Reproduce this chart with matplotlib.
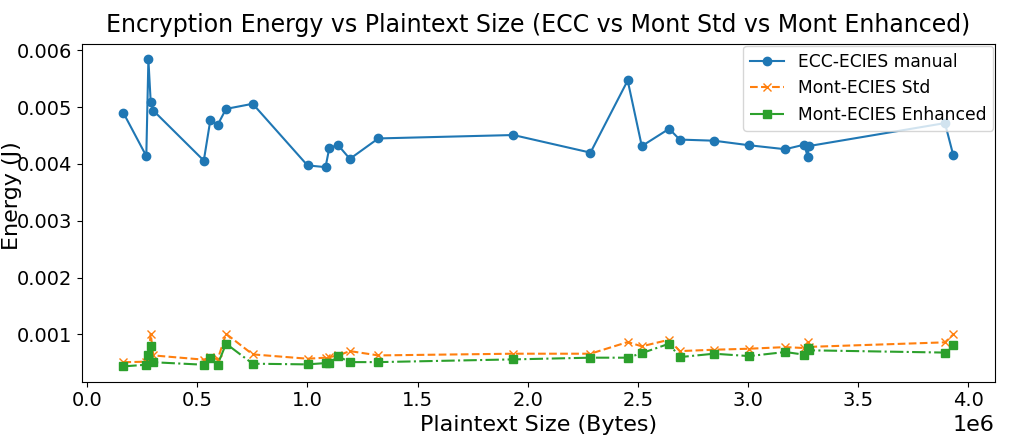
import numpy as np
import matplotlib
matplotlib.use("Agg")
import matplotlib.pyplot as plt

# plaintext sizes (bytes) and measured encryption energy (J)
sizes = np.array([0.165, 0.269, 0.2785, 0.289, 0.301, 0.530, 0.560, 0.593, 0.631, 0.752,
                  1.0007, 1.0825, 1.100, 1.140, 1.193, 1.322, 1.935, 2.285, 2.454, 2.518,
                  2.642, 2.690, 2.846, 3.005, 3.169, 3.255, 3.272, 3.275, 3.894, 3.932]) * 1e6

ecc_energy = np.array([4.90, 4.14, 5.84, 5.09, 4.94, 4.06, 4.78, 4.69, 4.97, 5.06,
                       3.975, 3.945, 4.29, 4.33, 4.09, 4.45, 4.51, 4.20, 5.47, 4.315,
                       4.62, 4.43, 4.41, 4.33, 4.26, 4.34, 4.12, 4.315, 4.72, 4.15]) * 1e-3

mont_std_energy = np.array([0.51, 0.52, 0.60, 1.01, 0.63, 0.555, 0.60, 0.56, 1.01, 0.648,
                            0.572, 0.59, 0.60, 0.63, 0.706, 0.63, 0.66, 0.66, 0.865, 0.79,
                            0.906, 0.706, 0.73, 0.748, 0.776, 0.76, 0.865, 0.78, 0.86, 1.0]) * 1e-3

mont_enh_energy = np.array([0.437, 0.466, 0.63, 0.79, 0.51, 0.466, 0.58, 0.47, 0.836, 0.484,
                            0.472, 0.495, 0.495, 0.613, 0.512, 0.512, 0.56, 0.59, 0.59, 0.67,
                            0.836, 0.60, 0.66, 0.618, 0.69, 0.643, 0.76, 0.72, 0.68, 0.806]) * 1e-3

fig = plt.figure(figsize=(10.11, 4.37), dpi=100)
ax = fig.add_axes([0.081, 0.1265, 0.903, 0.7725])

ax.plot(sizes, ecc_energy, marker='o', linestyle='-', label='ECC-ECIES manual')
ax.plot(sizes, mont_std_energy, marker='x', linestyle='--', label='Mont-ECIES Std')
ax.plot(sizes, mont_enh_energy, marker='s', linestyle='-.', label='Mont-ECIES Enhanced')

ax.set_title('Encryption Energy vs Plaintext Size (ECC vs Mont Std vs Mont Enhanced)',
             fontsize=17, pad=9)
ax.set_xlabel('Plaintext Size (Bytes)', fontsize=16, labelpad=3)
ax.set_ylabel('Energy (J)', fontsize=16)
ax.yaxis.set_label_coords(-0.066, 0.55)
ax.tick_params(labelsize=14)
ax.xaxis.get_offset_text().set_fontsize(16)
ax.legend(loc='upper right', fontsize=12.3, borderaxespad=0.1)

fig.savefig('out.png', dpi=100)
